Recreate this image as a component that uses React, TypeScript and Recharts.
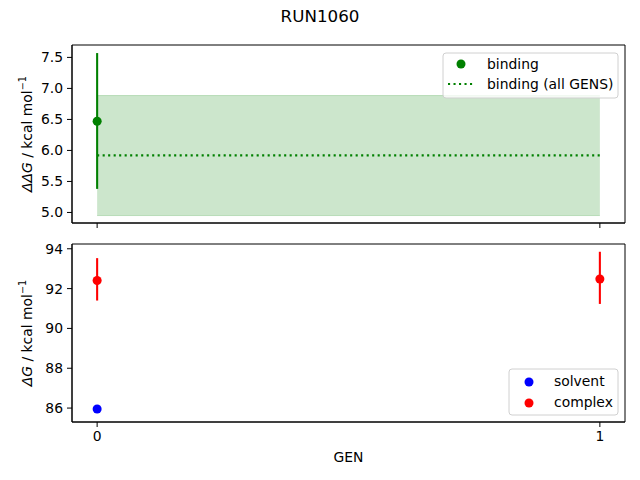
import {
  ComposedChart,
  Scatter,
  Line,
  Area,
  XAxis,
  YAxis,
  ErrorBar,
  ReferenceArea,
} from 'recharts';

// GEN values on the shared x axis
const GEN_TICKS = [0, 1];
const X_DOMAIN: [number, number] = [-0.05, 1.05];

// top panel: binding free energy per GEN, plus the all-GENS estimate
const BINDING_GEN = [0];
const BINDING_VALUE = [6.47];
const BINDING_LOW = [5.38];
const BINDING_HIGH = [7.57];
const BINDING_ALL_GEN = [0, 1];
const BINDING_ALL_VALUE = 5.92;
const BINDING_ALL_LOW = 4.95;
const BINDING_ALL_HIGH = 6.885;
const TOP_TICKS = [5.0, 5.5, 6.0, 6.5, 7.0, 7.5];
const TOP_DOMAIN: [number, number] = [4.83, 7.7];

// bottom panel: solvent and complex legs
const SOLVENT_GEN = [0];
const SOLVENT_VALUE = [85.95];
const COMPLEX_GEN = [0, 1];
const COMPLEX_VALUE = [92.41, 92.48];
const COMPLEX_LOW = [91.4, 91.23];
const COMPLEX_HIGH = [93.53, 93.85];
const BOTTOM_TICKS = [86, 88, 90, 92, 94];
const BOTTOM_DOMAIN: [number, number] = [85.3, 94.24];

const FONT = 'DejaVu Sans, sans-serif';
const LW = 2.08;
const DOTS = '2.1 3.4';
const tickStyle = { fontSize: 13.9, fill: '#000', fontFamily: FONT };

const bindingData = BINDING_GEN.map((x, i) => ({
  x,
  y: BINDING_VALUE[i],
  err: [BINDING_VALUE[i] - BINDING_LOW[i], BINDING_HIGH[i] - BINDING_VALUE[i]],
}));
const bindingAllData = BINDING_ALL_GEN.map((x) => ({
  x,
  y: BINDING_ALL_VALUE,
  band: [BINDING_ALL_LOW, BINDING_ALL_HIGH],
}));
const solventData = SOLVENT_GEN.map((x, i) => ({ x, y: SOLVENT_VALUE[i] }));
const complexData = COMPLEX_GEN.map((x, i) => ({
  x,
  y: COMPLEX_VALUE[i],
  err: [COMPLEX_VALUE[i] - COMPLEX_LOW[i], COMPLEX_HIGH[i] - COMPLEX_VALUE[i]],
}));

function yTitle(prefix: string) {
  return (props: any) => {
    const vb = props.viewBox || { x: 0, y: 0, width: 0, height: 0 };
    const cx = 27;
    const cy = vb.y + vb.height / 2;
    return (
      <text
        x={cx}
        y={cy}
        transform={`rotate(-90 ${cx} ${cy})`}
        textAnchor="middle"
        dominantBaseline="central"
        fontFamily={FONT}
        fontSize={13.9}
        fill="#000"
      >
        <tspan fontStyle="italic">{prefix}G</tspan>
        <tspan> / kcal mol</tspan>
        <tspan dy={-5} fontSize={9.7}>−1</tspan>
      </text>
    );
  };
}

const noTick = () => <g />;

function LegendBox({ x, y, w, h, children }: any) {
  return (
    <g>
      <rect x={x} y={y} width={w} height={h} rx={3} fill="#fff" fillOpacity={0.8} stroke="#d0d0d0" />
      {children}
    </g>
  );
}

export default function App() {
  return (
    <div style={{ position: 'absolute', left: 0, top: 0, width: 640, height: 480, background: '#fff' }}>
      <div style={{ position: 'absolute', left: 0, top: 0 }}>
        <ComposedChart width={640} height={240} margin={{ top: 45, right: 15, bottom: 0, left: 0 }}>
          <XAxis
            type="number"
            dataKey="x"
            domain={X_DOMAIN}
            ticks={GEN_TICKS}
            allowDataOverflow
            height={17}
            tick={noTick}
            tickSize={5}
            stroke="#000"
          />
          <YAxis
            type="number"
            domain={TOP_DOMAIN}
            ticks={TOP_TICKS}
            allowDataOverflow
            width={72}
            tick={tickStyle}
            tickFormatter={(v: number) => v.toFixed(1)}
            tickSize={5}
            tickMargin={4}
            stroke="#000"
            label={yTitle('ΔΔ')}
          />
          <Area
            data={bindingAllData}
            dataKey="band"
            stroke="green"
            strokeOpacity={0.2}
            fill="green"
            fillOpacity={0.2}
            isAnimationActive={false}
          />
          <Line
            data={bindingAllData}
            dataKey="y"
            stroke="green"
            strokeWidth={LW}
            strokeDasharray={DOTS}
            dot={false}
            isAnimationActive={false}
          />
          <Scatter data={bindingData} dataKey="y" fill="green" isAnimationActive={false}>
            <ErrorBar dataKey="err" direction="y" width={0} stroke="green" strokeWidth={LW} />
          </Scatter>
          <ReferenceArea
            x1={X_DOMAIN[0]}
            x2={X_DOMAIN[1]}
            y1={TOP_DOMAIN[0]}
            y2={TOP_DOMAIN[1]}
            fill="none"
            stroke="#000"
          />
        </ComposedChart>
      </div>
      <div style={{ position: 'absolute', left: 0, top: 230 }}>
        <ComposedChart width={640} height={250} margin={{ top: 14, right: 15, bottom: 18, left: 0 }}>
          <XAxis
            type="number"
            dataKey="x"
            domain={X_DOMAIN}
            ticks={GEN_TICKS}
            allowDataOverflow
            height={40}
            tick={tickStyle}
            tickSize={5}
            tickMargin={4}
            stroke="#000"
            label={{ value: 'GEN', position: 'insideBottom', offset: 0, fill: '#000', fontSize: 13.9, fontFamily: FONT }}
          />
          <YAxis
            type="number"
            domain={BOTTOM_DOMAIN}
            ticks={BOTTOM_TICKS}
            allowDataOverflow
            width={72}
            tick={tickStyle}
            tickSize={5}
            tickMargin={4}
            stroke="#000"
            label={yTitle('Δ')}
          />
          <Scatter data={solventData} dataKey="y" fill="blue" isAnimationActive={false} />
          <Scatter data={complexData} dataKey="y" fill="red" isAnimationActive={false}>
            <ErrorBar dataKey="err" direction="y" width={0} stroke="red" strokeWidth={LW} />
          </Scatter>
          <ReferenceArea
            x1={X_DOMAIN[0]}
            x2={X_DOMAIN[1]}
            y1={BOTTOM_DOMAIN[0]}
            y2={BOTTOM_DOMAIN[1]}
            fill="none"
            stroke="#000"
          />
        </ComposedChart>
      </div>
      <svg width={640} height={480} style={{ position: 'absolute', left: 0, top: 0, pointerEvents: 'none' }}>
        <text x={320} y={16} textAnchor="middle" dominantBaseline="central" fontFamily={FONT} fontSize={16.7} fill="#000">
          RUN1060
        </text>
        <g fontFamily={FONT} fontSize={13.9} fill="#000">
          <LegendBox x={443} y={53} w={175} h={45}>
            <circle cx={461} cy={64} r={4.5} fill="green" />
            <text x={487} y={64} dominantBaseline="central">binding</text>
            <line x1={448} x2={475} y1={84} y2={84} stroke="green" strokeWidth={LW} strokeDasharray={DOTS} />
            <text x={487} y={84} dominantBaseline="central">binding (all GENS)</text>
          </LegendBox>
          <LegendBox x={509} y={369} w={109} h={46}>
            <circle cx={529} cy={382} r={4.5} fill="blue" />
            <text x={554} y={381} dominantBaseline="central">solvent</text>
            <circle cx={529} cy={403} r={4.5} fill="red" />
            <text x={554} y={402} dominantBaseline="central">complex</text>
          </LegendBox>
        </g>
      </svg>
    </div>
  );
}
